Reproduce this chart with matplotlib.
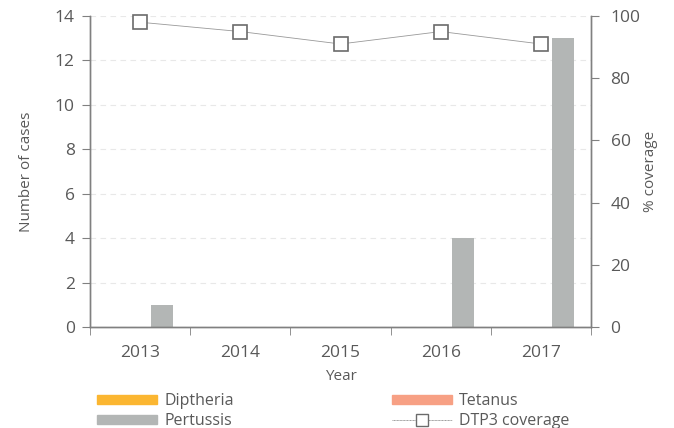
import matplotlib
matplotlib.use("Agg")
import matplotlib.pyplot as plt
import numpy as np
from matplotlib.patches import Patch
from matplotlib.lines import Line2D

years = ["2013", "2014", "2015", "2016", "2017"]
diptheria = [0, 0, 0, 0, 0]
tetanus = [0, 0, 0, 0, 0]
pertussis = [1, 0, 0, 4, 13]
dtp3 = [98, 95, 91, 95, 91]

plt.rcParams['font.family'] = ['Open Sans', 'DejaVu Sans']
tc = '#595959'
ac = '#808080'

fig = plt.figure(figsize=(6.74, 4.28), dpi=100)
ax = fig.add_axes([0.1335, 0.236, 0.7435, 0.7266])
ax2 = ax.twinx()

x = np.arange(len(years))
w = 0.22
ax.bar(x - w, diptheria, w, color='#FBB631', zorder=2)
ax.bar(x, tetanus, w, color='#F7A084', zorder=2)
ax.bar(x + w, pertussis, w, color='#B3B6B5', zorder=2)

ax.set_xlim(-0.5, len(years) - 0.5)
ax.set_ylim(0, 14)
ax.set_yticks(range(0, 15, 2))
ax.set_xticks(x)
ax.set_xticklabels(years)
ax.set_xticks(np.arange(-0.5, len(years), 1), minor=True)
ax.tick_params(axis='x', which='major', length=0, pad=13, labelsize=12.5, colors=tc)
ax.tick_params(axis='x', which='minor', length=6, color=ac, direction='out')
ax.tick_params(axis='y', length=6, color=ac, labelsize=12.5, labelcolor=tc, pad=5)
ax.yaxis.grid(True, linestyle=(0, (5, 4)), color='#e8e8e8', linewidth=0.8, zorder=0)
ax.set_axisbelow(True)
ax.set_xlabel('Year', fontsize=11, color=tc, labelpad=6)
ax.set_ylabel('Number of cases', fontsize=11, color=tc, labelpad=15)

ax2.plot(x, dtp3, color='#999999', linewidth=0.6, marker='s', markersize=9.5,
         markerfacecolor='white', markeredgecolor='#6b6b6b', markeredgewidth=1.2,
         zorder=3, clip_on=False)
ax2.set_ylim(0, 100)
ax2.set_yticks(range(0, 101, 20))
ax2.tick_params(axis='y', length=6, color=ac, labelsize=12.5, labelcolor=tc, pad=8)
ax2.set_ylabel('% coverage', fontsize=11, color=tc, labelpad=2)

for a in (ax, ax2):
    a.spines['top'].set_visible(False)
    for s in ('left', 'right', 'bottom'):
        a.spines[s].set_color(ac)
        a.spines[s].set_linewidth(1.0)

handles = [Patch(color='#FBB631', label='Diptheria'),
           Patch(color='#F7A084', label='Tetanus'),
           Patch(color='#B3B6B5', label='Pertussis'),
           Line2D([0], [0], color='#999999', linewidth=0.7, linestyle=(0, (1, 0.5)), marker='s',
                  markersize=8, markerfacecolor='white', markeredgecolor='#6b6b6b',
                  label='DTP3 coverage')]
order = [handles[0], handles[2], handles[1], handles[3]]
leg = fig.legend(handles=order, ncol=2, loc='upper left', bbox_to_anchor=(0.132, 0.1),
                 frameon=False, fontsize=11.5, handlelength=3.75, handleheight=0.55,
                 columnspacing=9.9, labelspacing=0.25, handletextpad=0.45, borderpad=0)
for t in leg.get_texts():
    t.set_color(tc)

fig.savefig('out.png', dpi=100)
